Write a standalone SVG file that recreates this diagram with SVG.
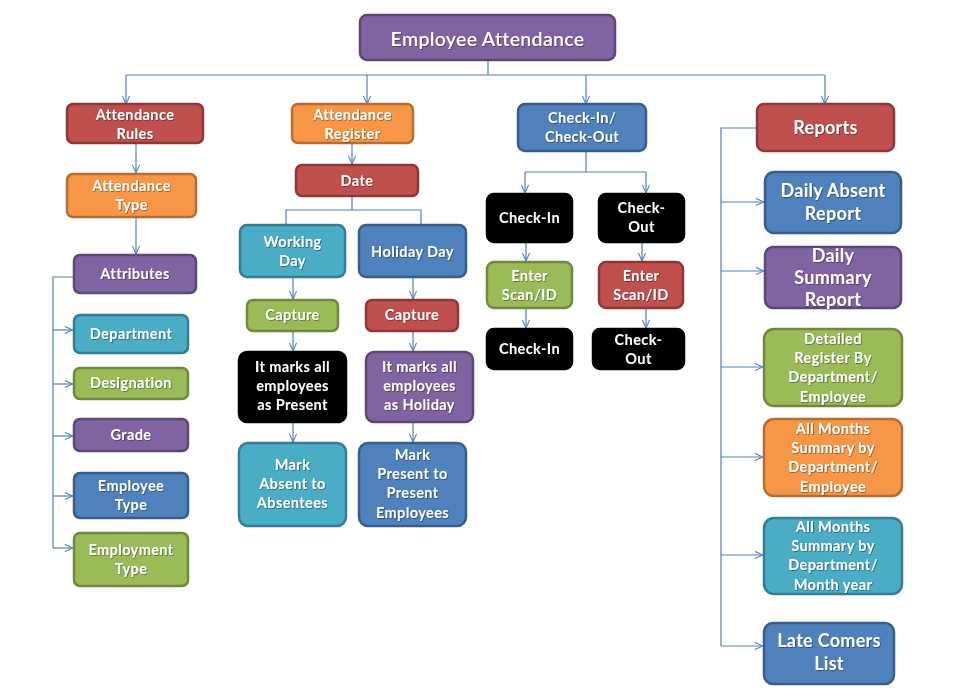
<svg xmlns="http://www.w3.org/2000/svg" width="960" height="695" viewBox="0 0 960 695">
<defs>
<marker id="ah" viewBox="0 0 10 10" refX="10" refY="5" markerWidth="9" markerHeight="9" markerUnits="userSpaceOnUse" orient="auto">
<path d="M1,1 L10,5 L1,9" fill="none" stroke="#4F81BD" stroke-width="1.2"/>
</marker>
<filter id="sh" x="-10%" y="-20%" width="120%" height="140%">
<feDropShadow dx="0.8" dy="0.8" stdDeviation="0.6" flood-color="#000" flood-opacity="0.45"/>
</filter>
</defs>
<style>
rect{stroke-width:2.5}
.pu{fill:#8064A2;stroke:#5C4776}
.re{fill:#C0504D;stroke:#8C3836}
.or{fill:#F79646;stroke:#B66D31}
.te{fill:#4BACC6;stroke:#357D91}
.bl{fill:#4F81BD;stroke:#385D8A}
.gr{fill:#9BBB59;stroke:#71893F}
.bk{fill:#000;stroke:#000}
text{font-family:Lato,"Open Sans","Liberation Sans",sans-serif;font-weight:bold;fill:#fff;text-anchor:middle;font-size:14.5px;letter-spacing:0.4px;filter:url(#sh)}
.l{font-size:18px;letter-spacing:0.3px}
.t{font-size:19.5px;font-weight:600;letter-spacing:0.3px}
#conn path{fill:none;stroke:#4F81BD;stroke-width:1.2}
</style>
<g id="conn">
<path d="M488,60 V75 M126,75 H825"/>
<path d="M126,75 V104" marker-end="url(#ah)"/>
<path d="M367,75 V104" marker-end="url(#ah)"/>
<path d="M586,75 V104" marker-end="url(#ah)"/>
<path d="M825,75 V104" marker-end="url(#ah)"/>
<path d="M136,143 V173" marker-end="url(#ah)"/>
<path d="M136,217 V254" marker-end="url(#ah)"/>
<path d="M74,277 H53 V548"/>
<path d="M53,330 H73" marker-end="url(#ah)"/>
<path d="M53,384 H73" marker-end="url(#ah)"/>
<path d="M53,436 H73" marker-end="url(#ah)"/>
<path d="M53,496 H73" marker-end="url(#ah)"/>
<path d="M53,548 H73" marker-end="url(#ah)"/>
<path d="M352,143 V164" marker-end="url(#ah)"/>
<path d="M352,196 V210 M286,225 V210 H421 V225"/>
<path d="M293,277 V299" marker-end="url(#ah)"/>
<path d="M413,277 V299" marker-end="url(#ah)"/>
<path d="M293,331 V351" marker-end="url(#ah)"/>
<path d="M413,331 V351" marker-end="url(#ah)"/>
<path d="M293,422 V442" marker-end="url(#ah)"/>
<path d="M413,422 V442" marker-end="url(#ah)"/>
<path d="M586,151 V172 M525,172 H646"/>
<path d="M525,172 V193" marker-end="url(#ah)"/>
<path d="M646,172 V193" marker-end="url(#ah)"/>
<path d="M526,242 V261" marker-end="url(#ah)"/>
<path d="M642,242 V261" marker-end="url(#ah)"/>
<path d="M526,308 V328" marker-end="url(#ah)"/>
<path d="M646,308 V328" marker-end="url(#ah)"/>
<path d="M757,128 H721 V646"/>
<path d="M721,202 H764" marker-end="url(#ah)"/>
<path d="M721,271 H764" marker-end="url(#ah)"/>
<path d="M721,367 H763" marker-end="url(#ah)"/>
<path d="M721,457 H763" marker-end="url(#ah)"/>
<path d="M721,555 H763" marker-end="url(#ah)"/>
<path d="M721,646 H763" marker-end="url(#ah)"/>
</g>
<g id="n-title"><rect class="pu" x="360" y="15" width="255" height="45" rx="7"/><text class="t" x="487.5" y="46">Employee Attendance</text></g>
<g id="n-rules"><rect class="re" x="67" y="104" width="136" height="39" rx="6"/><text x="135" y="120">Attendance</text><text x="135" y="139">Rules</text></g>
<g id="n-type"><rect class="or" x="67" y="174" width="129" height="43" rx="6"/><text x="131.5" y="191">Attendance</text><text x="131.5" y="210">Type</text></g>
<g id="n-attributes"><rect class="pu" x="74" y="255" width="122" height="38" rx="6"/><text x="135" y="279">Attributes</text></g>
<g id="n-department"><rect class="te" x="74" y="315" width="114" height="38" rx="6"/><text x="131" y="339">Department</text></g>
<g id="n-designation"><rect class="gr" x="74" y="368" width="114" height="31" rx="6"/><text x="131" y="388">Designation</text></g>
<g id="n-grade"><rect class="pu" x="74" y="419" width="114" height="32" rx="6"/><text x="131" y="440">Grade</text></g>
<g id="n-emptype"><rect class="bl" x="74" y="473" width="114" height="45" rx="6"/><text x="131" y="491">Employee</text><text x="131" y="510">Type</text></g>
<g id="n-employmenttype"><rect class="gr" x="74" y="533" width="114" height="53" rx="6"/><text x="131" y="555">Employment</text><text x="131" y="574">Type</text></g>
<g id="n-register"><rect class="or" x="292" y="104" width="121" height="39" rx="6"/><text x="352.5" y="120">Attendance</text><text x="352.5" y="139">Register</text></g>
<g id="n-date"><rect class="re" x="296" y="165" width="122" height="31" rx="6"/><text x="357" y="186">Date</text></g>
<g id="n-working"><rect class="te" x="240" y="225" width="105" height="52" rx="7"/><text x="292.5" y="247">Working</text><text x="292.5" y="266">Day</text></g>
<g id="n-holiday"><rect class="bl" x="359" y="225" width="107" height="52" rx="7"/><text x="412.5" y="257">Holiday Day</text></g>
<g id="n-capture1"><rect class="gr" x="247" y="300" width="91" height="31" rx="6"/><text x="292.5" y="320">Capture</text></g>
<g id="n-capture2"><rect class="re" x="366" y="300" width="92" height="31" rx="6"/><text x="412" y="320">Capture</text></g>
<g id="n-marksp"><rect class="bk" x="239" y="352" width="107" height="70" rx="8"/><text x="292.5" y="372">It marks all</text><text x="292.5" y="391">employees</text><text x="292.5" y="410">as Present</text></g>
<g id="n-marksh"><rect class="pu" x="366" y="352" width="107" height="70" rx="8"/><text x="419.5" y="372">It marks all</text><text x="419.5" y="391">employees</text><text x="419.5" y="410">as Holiday</text></g>
<g id="n-absent"><rect class="te" x="239" y="443" width="107" height="83" rx="9"/><text x="292.5" y="470">Mark</text><text x="292.5" y="489">Absent to</text><text x="292.5" y="508">Absentees</text></g>
<g id="n-present"><rect class="bl" x="359" y="443" width="107" height="83" rx="9"/><text x="412.5" y="460">Mark</text><text x="412.5" y="479">Present to</text><text x="412.5" y="498">Present</text><text x="412.5" y="518">Employees</text></g>
<g id="n-checkio"><rect class="bl" x="518" y="104" width="128" height="47" rx="7"/><text x="582" y="123">Check-In/</text><text x="582" y="142">Check-Out</text></g>
<g id="n-checkin"><rect class="bk" x="487" y="194" width="85" height="48" rx="7"/><text x="529.5" y="223">Check-In</text></g>
<g id="n-checkout"><rect class="bk" x="599" y="194" width="85" height="48" rx="7"/><text x="641.5" y="213">Check-</text><text x="641.5" y="232">Out</text></g>
<g id="n-enter1"><rect class="gr" x="487" y="262" width="85" height="46" rx="7"/><text x="529.5" y="281">Enter</text><text x="529.5" y="300">Scan/ID</text></g>
<g id="n-enter2"><rect class="re" x="599" y="262" width="84" height="46" rx="7"/><text x="641" y="281">Enter</text><text x="641" y="300">Scan/ID</text></g>
<g id="n-checkin2"><rect class="bk" x="487" y="329" width="85" height="40" rx="7"/><text x="529.5" y="354">Check-In</text></g>
<g id="n-checkout2"><rect class="bk" x="593" y="329" width="91" height="40" rx="7"/><text x="638.5" y="345">Check-</text><text x="638.5" y="364">Out</text></g>
<g id="n-reports"><rect class="re" x="757" y="104" width="137" height="47" rx="7"/><text class="l" x="825.5" y="134">Reports</text></g>
<g id="n-dailyabsent"><rect class="bl" x="765" y="172" width="136" height="61" rx="9"/><text class="l" x="833" y="197">Daily Absent</text><text class="l" x="833" y="220">Report</text></g>
<g id="n-dailysummary"><rect class="pu" x="765" y="247" width="136" height="61" rx="8"/><text class="l" x="833" y="262">Daily</text><text class="l" x="833" y="284">Summary</text><text class="l" x="833" y="306">Report</text></g>
<g id="n-detailed"><rect class="gr" x="764" y="329" width="138" height="77" rx="10"/><text x="833" y="344">Detailed</text><text x="833" y="363">Register By</text><text x="833" y="382">Department/</text><text x="833" y="402">Employee</text></g>
<g id="n-allemp"><rect class="or" x="764" y="419" width="138" height="77" rx="10"/><text x="833" y="434">All Months</text><text x="833" y="453">Summary by</text><text x="833" y="472">Department/</text><text x="833" y="492">Employee</text></g>
<g id="n-allmonth"><rect class="te" x="764" y="518" width="138" height="76" rx="10"/><text x="833" y="532">All Months</text><text x="833" y="551">Summary by</text><text x="833" y="570">Department/</text><text x="833" y="590">Month year</text></g>
<g id="n-late"><rect class="bl" x="764" y="623" width="130" height="61" rx="9"/><text class="l" x="829" y="647">Late Comers</text><text class="l" x="829" y="670">List</text></g>
</svg>
